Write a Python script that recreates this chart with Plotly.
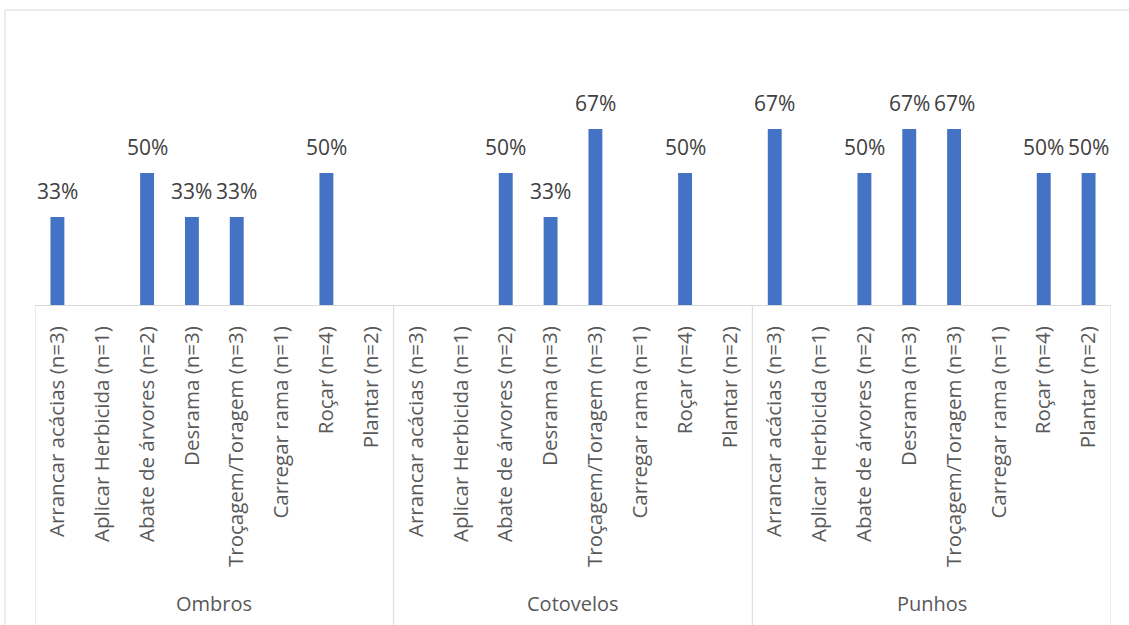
import plotly.graph_objects as go

# Share of workers reporting discomfort, per body region and task
groups = ["Ombros", "Cotovelos", "Punhos"]
tasks = [
    "Arrancar acácias (n=3)",
    "Aplicar Herbicida (n=1)",
    "Abate de árvores (n=2)",
    "Desrama (n=3)",
    "Troçagem/Toragem (n=3)",
    "Carregar rama (n=1)",
    "Roçar (n=4)",
    "Plantar (n=2)",
]
ombros = [0.333, 0, 0.5, 0.333, 0.333, 0, 0.5, 0]
cotovelos = [0, 0, 0.5, 0.333, 0.667, 0, 0.5, 0]
punhos = [0.667, 0, 0.5, 0.667, 0.667, 0, 0.5, 0.5]

values = ombros + cotovelos + punhos
labels = tasks * len(groups)
xpos = list(range(len(values)))

W, H = 1129, 625
L, R, T, B = 35, 18, 41, 320
pw = W - L - R
ph = H - T - B

BAR = "#4472C4"
AXIS = "#D9D9D9"
TXT = "#595959"
FONT = "Open Sans"

fig = go.Figure()
fig.add_trace(go.Bar(x=xpos, y=values, width=0.31, marker_color=BAR,
                     marker_line_width=0, hoverinfo="skip"))

# value labels above non-zero bars
for x, v in zip(xpos, values):
    if v > 0:
        fig.add_annotation(x=x, y=v, xref="x", yref="y", text=f"{v:.0%}",
                           showarrow=False, yanchor="bottom", yshift=10,
                           font=dict(family=FONT, size=21, color="#404040"))

n = len(tasks)
# group dividers under the category axis
bottom = -(620 - (T + ph)) / ph
for g in range(len(groups) + 1):
    fig.add_shape(type="line", xref="x", yref="paper",
                  x0=g * n - 0.5, x1=g * n - 0.5, y0=0, y1=bottom - 0.05,
                  line=dict(color=AXIS, width=1))

# group names
for g, name in enumerate(groups):
    fig.add_annotation(x=g * n + (n - 1) / 2, y=-(603 - (T + ph)) / ph,
                       xref="x", yref="paper", text=name, showarrow=False,
                       yanchor="middle",
                       font=dict(family=FONT, size=20, color=TXT))

# chart frame
fig.add_shape(type="rect", xref="paper", yref="paper",
              x0=(5 - L) / pw, x1=(1140 - L) / pw,
              y0=-(640 - T - ph) / ph, y1=(T + ph - 10) / ph,
              line=dict(color=AXIS, width=1), layer="below")

fig.update_layout(
    width=W, height=H,
    margin=dict(l=L, r=R, t=T, b=B),
    paper_bgcolor="white", plot_bgcolor="white",
    showlegend=False,
    xaxis=dict(
        range=[-0.5, len(values) - 0.5],
        tickmode="array", tickvals=xpos, ticktext=labels,
        tickangle=-90, ticks="", ticklabelstandoff=12,
        tickfont=dict(family=FONT, size=20.5, color=TXT),
        showline=True, linecolor=AXIS, linewidth=1,
        showgrid=False, zeroline=False, fixedrange=True,
    ),
    yaxis=dict(range=[0, 1], visible=False, showgrid=False,
               zeroline=False, fixedrange=True),
)

fig.write_html("out.html")
